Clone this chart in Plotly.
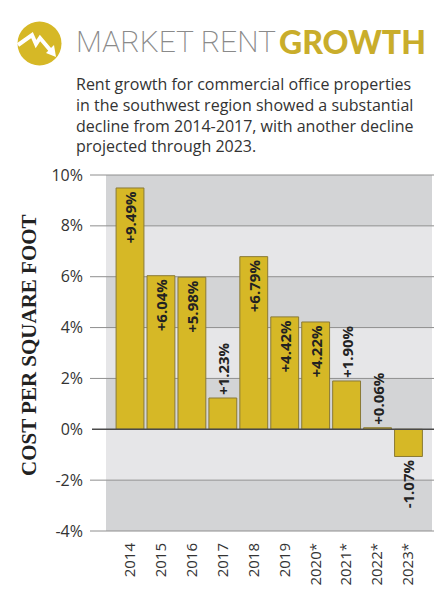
import plotly.graph_objects as go

# ---- data ----
years = ["2014", "2015", "2016", "2017", "2018", "2019", "2020*", "2021*", "2022*", "2023*"]
growth = [9.49, 6.04, 5.98, 1.23, 6.79, 4.42, 4.22, 1.90, 0.06, -1.07]
y_ticks = [-4, -2, 0, 2, 4, 6, 8, 10]
y_tick_text = [f"{t}%" for t in y_ticks]

labels = [("+" if v >= 0 else "") + f"{v:.2f}%" for v in growth]
positions = ["inside" if abs(v) >= 2.5 else "outside" for v in growth]

# ---- layout geometry (reference pixels; page body adds an 8px offset) ----
OFF = 8
W, H = 442 - OFF, 600 - OFF
PLOT_L, PLOT_R, PLOT_T, PLOT_B = 106, 432, 175, 531
ML, MT = PLOT_L - OFF, PLOT_T - OFF
MR, MB = W - (PLOT_R - OFF), H - (PLOT_B - OFF)
PW, PH = PLOT_R - PLOT_L, PLOT_B - PLOT_T
YMIN, YMAX = -4, 10


def px(x):
    return (x - PLOT_L) / PW


def py(y):
    return (PLOT_B - y) / PH


def pv(v):
    return (v - YMIN) / (YMAX - YMIN)


GOLD = "#d6b826"
DARK_BAND = "#d3d4d6"
LIGHT_BAND = "#e6e6e8"

fig = go.Figure()
fig.add_trace(go.Bar(
    x=years,
    y=growth,
    text=labels,
    textposition=positions,
    insidetextanchor="end",
    textangle=-90,
    constraintext="none",
    cliponaxis=False,
    textfont=dict(family="Open Sans", size=15, color="#222222", weight="bold"),
    marker=dict(color=GOLD, line=dict(color="#8a7a35", width=1)),
    hoverinfo="skip",
))

shapes = []
# background bands
for i, lo in enumerate(range(YMIN, YMAX, 2)):
    color = DARK_BAND if (i % 2 == 0) else LIGHT_BAND
    shapes.append(dict(type="rect", xref="paper", yref="paper", x0=0, x1=1,
                       y0=pv(lo), y1=pv(lo + 2), fillcolor=color,
                       line=dict(width=0), layer="below"))
# gridlines
for t in y_ticks:
    if t == 0:
        continue
    shapes.append(dict(type="line", xref="paper", yref="paper", x0=px(90), x1=px(442),
                       y0=pv(t), y1=pv(t), line=dict(color="#8e8e8e", width=1), layer="below"))
# zero line
shapes.append(dict(type="line", xref="paper", yref="paper", x0=px(92), x1=px(442),
                   y0=pv(0), y1=pv(0), line=dict(color="#4a4a4a", width=1.6), layer="above"))

# icon: gold circle with white zig-zag arrow
cx, cy, r = 39.5, 43.5, 22
shapes.append(dict(type="circle", xref="paper", yref="paper",
                   x0=px(cx - r), x1=px(cx + r), y0=py(cy + r), y1=py(cy - r),
                   fillcolor=GOLD, line=dict(width=0)))
zig = [(18, 45), (32, 35), (36, 44), (40, 38), (51, 51)]
path = "M " + " L ".join(f"{px(a):.5f},{py(b):.5f}" for a, b in zig)
shapes.append(dict(type="path", xref="paper", yref="paper", path=path,
                   line=dict(color="white", width=4)))
head = [(56, 57), (46, 53), (54, 45)]
hpath = "M " + " L ".join(f"{px(a):.5f},{py(b):.5f}" for a, b in head) + " Z"
shapes.append(dict(type="path", xref="paper", yref="paper", path=hpath,
                   fillcolor="white", line=dict(width=0)))

annotations = [
    dict(text="MARKET RENT", x=px(74), y=py(41), xref="paper", yref="paper",
         xanchor="left", yanchor="middle", showarrow=False,
         font=dict(family="Roboto", size=30, color="#8a8a8a", weight=200)),
    dict(text="GROWTH", x=px(277), y=py(41), xref="paper", yref="paper",
         xanchor="left", yanchor="middle", showarrow=False,
         font=dict(family="Lato", size=32, color="#c9ad2b", weight=900)),
    dict(text="Rent growth for commercial office properties<br>"
              "in the southwest region showed a substantial<br>"
              "decline from 2014-2017, with another decline<br>"
              "projected through 2023.",
         x=px(74), y=py(71), xref="paper", yref="paper", xanchor="left", yanchor="top",
         align="left", showarrow=False,
         font=dict(family="Open Sans", size=16, color="#333333")),
    dict(text="COST PER SQUARE FOOT", textangle=-90, x=px(29), y=py(345),
         xref="paper", yref="paper", xanchor="center", yanchor="middle", showarrow=False,
         font=dict(family="Liberation Serif", size=21, color="#222222", weight="bold")),
]

fig.update_layout(
    width=W, height=H,
    margin=dict(l=ML, r=MR, t=MT, b=MB, pad=0),
    paper_bgcolor="white", plot_bgcolor="rgba(0,0,0,0)",
    showlegend=False,
    bargap=0.1,
    shapes=shapes,
    annotations=annotations,
    font=dict(family="Open Sans", color="#333333"),
)
fig.update_xaxes(type="category", range=[-0.776, 9.76], showgrid=False, zeroline=False,
                 showline=False, ticks="", tickangle=-90, ticklabelstandoff=8,
                 automargin=False,
                 tickfont=dict(family="Open Sans", size=15, color="#333333"))
fig.update_yaxes(range=[YMIN, YMAX], tickmode="array", tickvals=y_ticks,
                 ticktext=y_tick_text, showgrid=False, automargin=False,
                 zeroline=False, showline=False, ticks="", ticklabelstandoff=22,
                 tickfont=dict(family="Open Sans", size=16, color="#333333"))

fig.write_html("out.html")
